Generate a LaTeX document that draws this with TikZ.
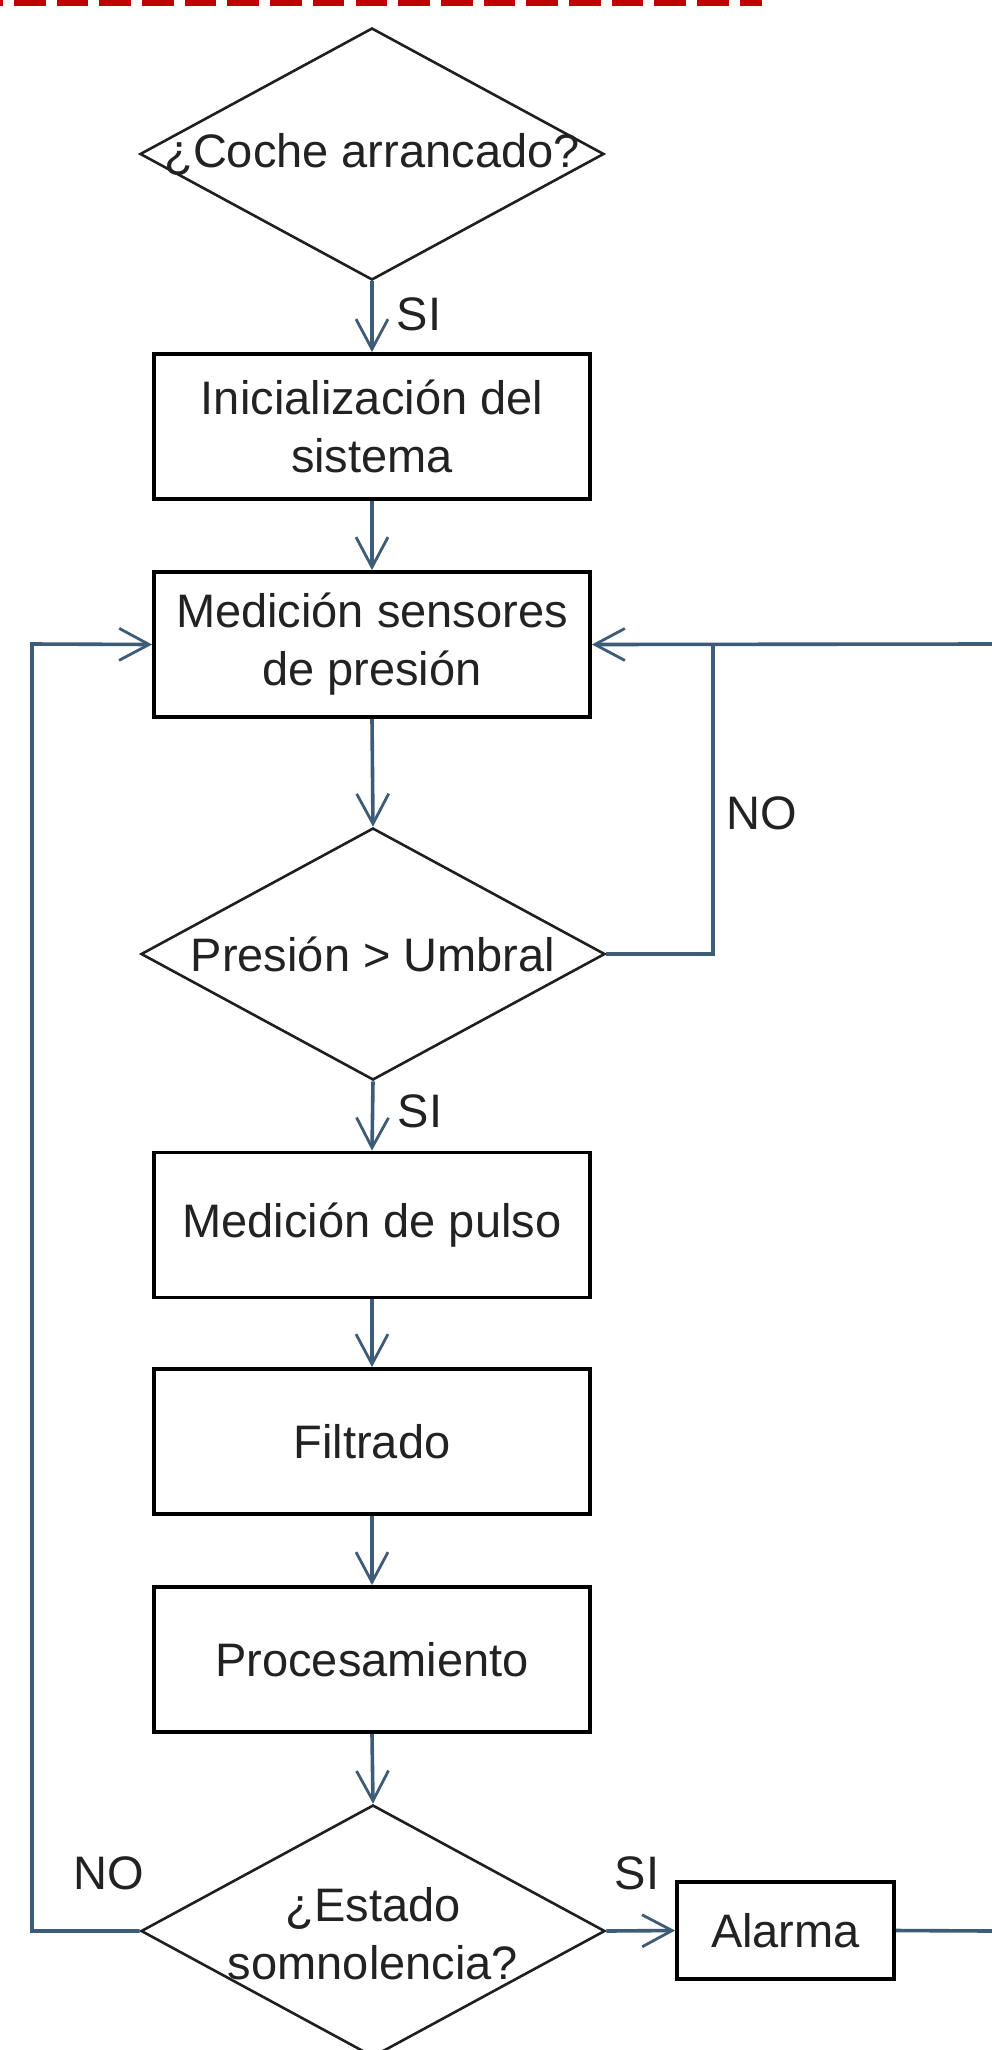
\documentclass[tikz,border=0pt]{standalone}
\usepackage{fontspec}
\setmainfont{Liberation Sans}
\usetikzlibrary{shapes.geometric,arrows.meta}
\definecolor{conncol}{HTML}{3E5C76}
\definecolor{redline}{HTML}{C00000}
\definecolor{textcol}{HTML}{222222}
\begin{document}
\begin{tikzpicture}[x=1pt,y=-1pt,
  flowbox/.style={draw=black, line width=3.8pt, minimum width=436pt, minimum height=145pt, inner sep=0pt, align=center, font=\fontsize{47}{58}\selectfont, text=textcol},
  flowdia/.style={draw=black!88, line width=2.6pt, diamond, minimum width=464pt, minimum height=252pt, inner sep=0pt},
  flowtxt/.style={align=center, font=\fontsize{47}{58}\selectfont, text=textcol, inner sep=0pt},
  flowline/.style={draw=conncol, line width=3.6pt},
  flowconn/.style={flowline, -{Straight Barb[length=30pt,width=32pt,line width=2.8pt]}},
]
\useasboundingbox (0,0) rectangle (992,2050);
\fill[white] (0,0) rectangle (992,2050);

% red dashed line at top
\draw[redline, line width=7pt, dash pattern=on 31.6pt off 11.1pt, dash phase=28.8pt] (0,2.5) -- (762,2.5);

% nodes
\node[flowdia] (d1) at (372,154) {};
\node[flowtxt] (d1t) at (d1.center) {¿Coche arrancado?};
\node[flowbox] (b1) at (372,426.5) {Inicialización del\\sistema};
\node[flowbox] (b2) at (372,644.5) {Medición sensores\\de presión};
\node[flowdia] (d2) at (373,954) {};
\node[flowtxt] (d2t) at (d2.center) {Presión > Umbral};
\node[flowbox] (b3) at (372,1225) {Medición de pulso};
\node[flowbox] (b4) at (372,1441.5) {Filtrado};
\node[flowbox] (b5) at (372,1659.5) {Procesamiento};
\node[flowdia] (d3) at (373,1931) {};
\node[flowtxt] (d3t) at ([yshift=-3pt]d3.center) {¿Estado\\somnolencia?};
\node[flowbox, minimum width=217pt, minimum height=97pt] (al) at (785.5,1930.5) {Alarma};

% labels
\node[flowtxt] (si1) at (419,314) {SI};
\node[flowtxt] (si2) at (420,1111) {SI};
\node[flowtxt] (no1) at (762,813) {NO};
\node[flowtxt] (no2) at (109,1873) {NO};
\node[flowtxt] (si3) at (637,1873) {SI};

% coordinates
\coordinate (offR1) at (992,644);
\coordinate (offR2) at (992,1931);
\coordinate (jn) at (713,644);
\coordinate (lc) at (32,644);

% connectors
\draw[flowconn] (d1.south) -- (b1.north);
\draw[flowconn] (b1.south) -- (b2.north);
\draw[flowconn] (b2.south) -- (d2.north);
\draw[flowconn] (d2.south) -- (b3.north);
\draw[flowconn] (b3.south) -- (b4.north);
\draw[flowconn] (b4.south) -- (b5.north);
\draw[flowconn] (b5.south) -- (d3.north);
\draw[flowconn] (d3.east) -- (al.west);
\draw[flowline] (al.east) -- (offR2);
\draw[flowconn] (offR1) -- (b2.east);
\draw[flowline] (d2.east) -| (jn);
\draw[flowconn] (d3.west) -| (lc) -- (b2.west);
\end{tikzpicture}
\end{document}
